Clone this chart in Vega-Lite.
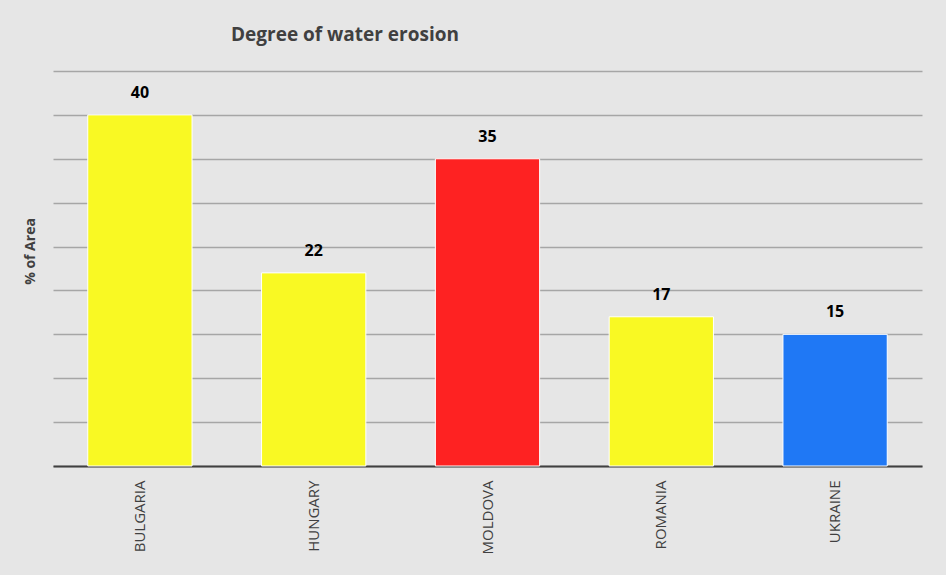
{
  "$schema": "https://vega.github.io/schema/vega-lite/v6.json",
  "autosize": "none",
  "width": 869,
  "height": 395,
  "padding": {"left": 53, "top": 71, "right": 24, "bottom": 109},
  "background": "#e6e6e6",
  "title": {"text": "Degree of water erosion", "anchor": "start", "dx": 208, "offset": 26, "fontSize": 19, "font": "Open Sans", "fontWeight": "bold", "color": "#404040"},
  "data": {"values": [
    {"country": "BULGARIA", "value": 40, "color": "yellow"},
    {"country": "HUNGARY", "value": 22, "color": "yellow"},
    {"country": "MOLDOVA", "value": 35, "color": "red"},
    {"country": "ROMANIA", "value": 17, "color": "yellow"},
    {"country": "UKRAINE", "value": 15, "color": "blue"}
  ]},
  "config": {"view": {"stroke": null}},
  "encoding": {
    "x": {"field": "country", "type": "nominal", "title": null,
      "scale": {"paddingInner": 0.4, "paddingOuter": 0.2},
      "axis": {"labelAngle": -90, "labelFontSize": 15, "labelFont": "Open Sans", "labelColor": "#404040", "ticks": false, "domainColor": "#404040", "domainWidth": 2, "labelPadding": 14}},
    "y": {"field": "value", "type": "quantitative", "title": "% of Area",
      "scale": {"domain": [0, 45]},
      "axis": {"values": [0,5,10,15,20,25,30,35,40,45], "labels": false, "ticks": false, "domain": false, "gridColor": "#a6a6a6", "gridWidth": 1.5, "titleFontSize": 14, "titleFont": "Open Sans", "titleColor": "#404040", "titlePadding": 16, "titleY": 180}}
  },
  "layer": [
    {"mark": {"type": "bar", "stroke": "#ffffff", "strokeWidth": 1},
     "encoding": {"color": {"field": "color", "type": "nominal", "legend": null,
       "scale": {"domain": ["yellow", "red", "blue"], "range": ["#f9f923", "#fe2222", "#1f78f5"]}}}},
    {"mark": {"type": "text", "dy": -22, "fontSize": 16, "fontWeight": "bold", "font": "Open Sans", "color": "#000000"},
     "encoding": {"text": {"field": "value", "type": "quantitative"}}}
  ]
}
